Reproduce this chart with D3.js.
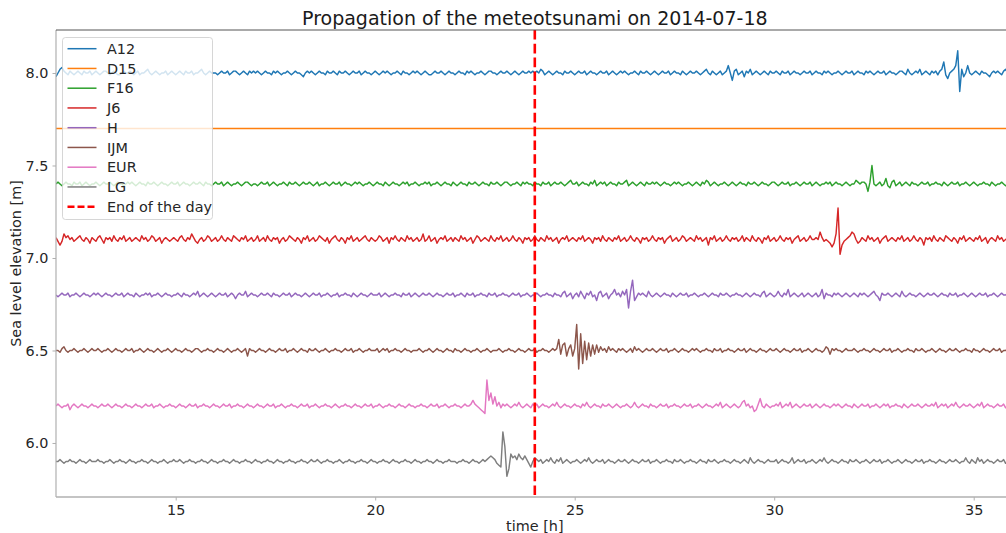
<!DOCTYPE html>
<html>
<head>
<meta charset="utf-8">
<script src="https://cdn.jsdelivr.net/npm/d3@7"></script>
<style>
  body { margin: 0; background: #fff; }
  svg { display: block; font-family: "DejaVu Sans", sans-serif; }
</style>
</head>
<body>
<svg id="chart" width="1006" height="533"></svg>
<script>
// stations, their vertical offset (m) and the hour range of the records
const stations = ['A12', 'D15', 'F16', 'J6', 'H', 'IJM', 'EUR', 'LG']
const offsets = [8.0, 7.7, 7.4, 7.1, 6.8, 6.5, 6.2, 5.9]
const timeRange = [12, 36]
const endOfDay = 24
const xTicks = [15, 20, 25, 30, 35]
const yTicks = [6.0, 6.5, 7.0, 7.5, 8.0]

// de-meaned sea level in cm, one value every 3 minutes (20 per hour)
const A12 = [
  -2,0,2,3,1,0,-1,1,0,-1,0,1,0,-1,1,0,0,1,-1,0,
  1,0,-1,0,1,1,0,-1,0,1,0,-1,-1,0,1,0,0,1,0,-1,
  0,1,-1,0,0,1,2,0,-1,0,1,0,-1,0,0,1,-1,0,1,0,
  -1,0,1,0,-1,1,0,0,1,-1,0,0,1,2,0,-1,0,1,0,0,
  0,-1,0,1,0,0,1,-1,0,1,1,0,-1,0,1,0,-1,1,0,1,
  0,1,0,-1,0,1,0,0,-1,1,0,1,0,-1,0,0,1,0,-1,0,
  1,0,0,-1,-2,0,1,0,1,0,-1,0,1,0,0,-1,1,0,0,1,
  0,-1,1,0,0,1,0,-1,0,1,0,0,1,-1,0,1,0,0,-1,0,
  1,0,-1,0,1,0,1,0,-1,0,0,1,0,-1,1,0,0,-1,0,1,
  0,1,0,-1,0,1,0,-1,-1,0,1,0,0,1,0,-1,0,1,0,0,
  -1,0,1,0,0,-1,1,0,1,0,-1,0,0,1,0,-1,0,1,1,0,
  0,-1,0,1,0,0,1,0,-1,0,1,0,-1,0,1,0,0,1,0,1,
  0,1,0,2,1,-1,0,1,0,-1,0,1,0,0,-1,1,0,0,1,0,
  -1,0,1,0,0,1,-1,0,1,0,0,-1,0,1,0,0,1,-1,0,1,
  0,-1,0,1,0,1,0,-1,0,0,1,0,-1,1,0,0,1,0,-1,0,
  1,0,-1,0,1,0,0,1,-1,0,1,0,0,-1,1,0,-1,0,1,0,
  0,1,0,-1,0,1,2,0,-1,1,0,-1,0,1,-1,0,1,4,0,-4,
  1,2,-1,0,1,-2,1,0,2,-1,0,1,0,-1,0,1,0,-1,1,0,
  0,1,0,-1,1,0,0,1,-1,0,1,0,0,-1,0,1,0,0,1,-1,
  0,1,0,0,-1,1,0,1,0,-1,0,0,1,0,-1,0,1,0,0,1,
  -1,0,1,0,0,-1,1,0,1,0,-1,0,1,0,0,1,-1,0,1,0,
  0,-1,0,1,1,0,-1,2,0,-1,0,1,0,2,-1,0,1,0,-1,1,
  0,1,-1,1,2,6,-1,-3,0,1,2,4,12,-10,2,-2,0,4,0,-1,
  0,1,0,-1,1,0,0,-1,-2,0,1,0,1,0,-1,1,2,0,1,0,
  0
]
const D15 = [0, 0]
const F16 = [
  0,1,0,-1,0,1,0,0,-1,1,0,0,1,-1,0,1,0,-1,0,0,
  1,0,-1,0,1,0,0,1,0,-1,0,1,0,0,-1,0,1,0,1,0,
  -1,0,1,0,0,-1,1,0,0,1,0,-1,0,1,0,0,-1,0,1,0,
  0,1,-1,0,1,0,0,-1,0,1,0,0,1,0,-1,1,0,0,-1,0,
  1,0,0,1,-1,0,1,0,-1,0,0,1,0,-1,0,1,1,0,-1,0,
  0,-1,0,1,0,0,1,-1,0,1,0,-1,0,0,1,0,-1,1,0,0,
  1,0,-1,0,1,0,0,1,0,-1,0,1,-1,0,0,1,0,-1,0,1,
  0,0,1,-1,0,1,0,0,-1,0,1,0,1,0,-1,0,0,1,0,-1,
  0,1,0,0,-1,1,0,-1,0,1,0,0,-1,0,1,0,1,-1,0,0,
  1,0,-1,0,0,1,0,1,-1,0,0,1,0,-1,0,1,0,0,-1,1,
  0,-1,0,1,0,0,-1,1,0,0,1,0,-1,0,1,0,0,-1,1,0,
  0,1,0,-1,0,1,1,0,-1,0,0,1,0,-1,1,0,1,0,0,-1,
  1,0,0,-1,1,0,0,1,-1,0,1,0,0,1,0,-1,0,1,2,0,
  0,1,-1,0,1,0,0,-1,1,0,2,-1,0,1,0,1,-1,0,1,0,
  0,-1,1,0,0,1,2,-1,0,1,0,-1,0,1,0,-1,1,0,0,1,
  0,1,0,-1,0,1,0,0,-1,0,1,0,1,0,-1,0,0,1,0,-1,
  0,1,0,-1,1,0,2,1,-1,0,1,0,-1,0,0,1,0,-1,0,1,
  0,-1,0,1,0,0,-1,1,0,0,1,0,-1,0,1,0,0,-1,0,1,
  1,0,-1,0,1,0,0,1,-1,0,0,1,0,-1,0,1,0,0,1,-1,
  0,1,0,-1,0,0,1,0,1,-1,0,1,0,0,-1,0,1,0,-1,0,
  0,2,1,0,1,1,0,-4,1,10,0,-1,0,1,-1,0,3,-1,-2,1,
  2,-1,0,1,-1,0,1,0,-1,1,0,0,-1,0,1,0,0,1,-1,0,
  0,1,0,0,-1,1,0,-1,0,1,0,0,1,-1,0,0,1,0,-1,0,
  1,0,-1,0,0,1,0,0,-1,1,0,-1,0,0,1,0,-1,0,1,0,
  0
]
const J6 = [
  1,-1,-3,-1,3,1,2,0,1,-1,0,1,2,0,-1,1,0,-2,1,0,
  -1,1,2,0,-2,1,0,1,-1,2,0,-1,1,0,2,-1,0,1,-1,0,
  1,0,-1,2,0,1,-1,0,2,1,-1,0,1,-2,0,1,0,-1,0,1,
  0,-1,1,2,0,-1,1,0,3,1,-1,-2,0,1,-1,0,2,1,-1,0,
  1,-1,0,2,0,-1,1,0,-1,2,1,0,-1,1,0,2,-1,0,1,-1,
  0,2,-1,0,1,-1,2,0,-1,1,0,1,-2,0,1,-1,0,2,1,0,
  -1,1,0,-2,1,0,2,-1,0,1,-1,0,2,1,0,-1,1,-2,0,1,
  2,0,-1,1,0,-2,1,0,2,-1,0,1,-1,0,1,2,0,-1,1,0,
  -1,0,2,1,-1,0,1,-2,1,0,2,0,-1,1,0,-1,2,0,1,-1,
  0,1,-1,0,3,-1,0,2,-1,0,1,-2,0,1,0,2,-1,0,1,-1,
  1,0,-1,2,0,1,-1,0,1,-2,0,2,1,-1,0,1,0,-1,2,0,
  -1,1,0,2,-1,0,1,-1,0,2,0,-1,1,0,-2,1,0,1,-1,0,
  2,0,-1,1,0,-1,2,0,1,-1,0,1,-2,0,1,0,2,-1,0,1,
  0,-1,1,0,2,-1,0,1,0,-2,1,0,1,-1,2,0,-1,1,0,-1,
  1,0,2,-1,0,1,-1,0,2,0,-1,1,0,-2,1,0,1,-1,0,2,
  0,-1,1,0,1,-2,0,1,2,-1,0,1,-1,0,2,1,-1,0,1,0,
  -1,2,0,1,-1,0,1,-3,1,0,2,-1,0,1,-1,0,2,0,-1,1,
  0,1,-1,0,2,-1,1,0,-1,2,0,-1,1,0,-2,1,0,2,-1,0,
  1,-1,0,2,0,-1,1,0,1,-2,0,1,2,-1,0,1,-1,0,2,0,
  0,1,0,4,1,-1,0,-1,-2,-4,-2,3,17,-8,-3,-1,0,1,2,4,
  3,0,-2,-1,1,0,-1,2,0,1,-1,0,1,-2,0,1,2,-1,0,1,
  0,-1,1,0,2,-1,0,1,-1,0,2,0,-1,1,0,-3,1,0,1,-1,
  2,0,-1,1,0,-1,2,1,0,-1,1,0,-2,1,0,2,-1,0,1,0,
  -1,1,0,2,-1,0,1,-2,0,1,0,-1,2,0,1,-1,0,1,0,-1,
  0
]
const H = [
  0,-1,0,1,0,0,1,-1,0,0,1,0,-1,0,1,0,0,-1,0,1,
  0,1,0,-1,0,1,0,0,-1,0,1,0,0,1,-1,0,1,0,0,-1,
  1,0,-1,0,0,1,0,1,-1,0,0,1,0,-1,0,1,0,0,-1,0,
  0,1,0,-1,1,0,0,-1,0,1,0,2,-1,0,1,0,-1,0,1,0,
  -1,0,1,0,0,1,-1,0,1,0,-2,0,1,0,0,2,-1,0,1,0,
  0,-1,0,1,0,0,1,0,-1,1,0,0,-1,0,1,0,0,1,-1,0,
  1,0,0,-1,0,1,0,-1,0,1,0,0,1,-1,0,0,1,0,-1,0,
  0,1,-1,0,0,1,0,0,-1,1,0,-1,0,1,0,0,-1,0,1,0,
  0,0,1,-1,0,1,0,-1,0,0,1,0,0,-1,1,0,0,1,-1,0,
  1,0,-1,0,1,0,0,1,0,-1,0,1,0,0,-1,0,1,0,0,1,
  -1,0,0,1,0,-1,1,0,0,1,-1,0,0,1,0,0,-1,1,0,0,
  1,-1,0,0,1,0,0,-1,0,1,0,0,1,-1,0,0,1,0,-1,0,
  0,1,0,-1,0,0,1,0,0,-1,1,0,0,-1,1,2,-1,0,1,-2,
  0,1,-1,2,0,-2,1,0,2,-1,0,-3,1,2,-1,0,1,-2,0,1,
  3,0,1,-1,2,0,3,-7,2,8,-3,-1,1,0,1,0,-1,2,0,-1,
  0,1,0,-1,0,1,0,0,-1,1,0,-1,0,1,0,0,1,-1,0,0,
  1,0,-1,0,0,1,0,-1,0,1,0,0,-1,1,0,0,1,0,-1,0,
  0,1,0,0,-1,0,1,0,-1,0,1,0,0,-1,1,2,-1,0,1,0,
  -1,0,2,0,-1,1,0,3,-1,0,1,0,-1,0,1,-1,0,1,0,-1,
  0,1,-1,0,3,-2,1,0,0,-1,1,0,1,0,-1,0,1,0,-1,0,
  1,0,-1,1,0,1,0,-1,0,1,2,0,-1,-3,1,0,0,1,0,-1,
  0,1,0,-1,2,0,-1,0,1,0,0,-1,0,1,0,-1,0,1,0,0,
  1,0,-1,0,1,0,0,-1,1,0,0,1,-1,0,0,1,0,-1,0,1,
  0,-1,0,1,0,0,1,-1,0,0,1,0,-1,0,1,0,0,1,0,0,
  0
]
const IJM = [
  0,0,-1,1,2,0,-1,0,0,1,0,-1,0,0,1,0,-1,0,1,0,
  0,1,0,-1,0,0,1,0,-1,0,1,0,0,-1,0,1,0,0,1,-1,
  0,0,1,0,-1,0,1,0,0,-1,0,1,0,-1,0,0,1,0,-1,0,
  1,0,0,-1,0,1,0,0,-1,0,1,1,0,-1,0,0,1,0,0,-1,
  0,1,0,0,-1,0,1,0,-1,0,0,1,0,-1,0,1,-3,1,0,0,
  -1,0,1,0,0,-1,0,1,0,0,-1,0,1,0,0,1,-1,0,0,1,
  0,-1,0,1,0,0,-1,1,0,0,1,0,-1,0,0,1,0,-1,0,0,
  1,0,0,-1,0,1,0,0,1,-1,0,0,1,0,-1,0,0,1,0,0,
  0,1,-1,0,1,0,1,-1,0,0,1,0,0,-1,0,1,0,0,-1,0,
  0,0,1,0,-1,0,0,1,0,-1,0,1,0,0,-1,0,1,0,0,-1,
  1,0,0,-1,0,1,0,0,-1,0,0,1,0,-1,0,0,1,0,-1,0,
  0,0,1,0,-1,0,0,1,0,0,-1,0,1,0,0,-1,0,1,0,0,
  1,-1,0,0,1,0,0,-1,0,1,0,1,6,-2,3,4,-3,1,3,-3,
  1,14,-10,9,-7,5,-5,4,-3,3,-2,3,-1,2,0,1,-1,2,0,1,
  0,-1,1,0,1,0,-1,0,1,-1,2,0,1,0,-1,0,1,0,0,1,
  0,-1,0,1,0,0,1,-1,0,0,1,0,-1,0,1,0,0,-1,0,1,
  0,1,0,-1,0,0,1,0,0,-1,1,0,0,1,-1,0,0,1,0,0,
  -1,0,1,0,0,1,-1,0,1,0,0,-1,0,1,0,0,-1,0,1,0,
  0,1,0,-1,0,1,0,0,-1,0,1,0,0,1,-1,0,0,1,0,-1,
  0,1,0,0,-1,0,2,1,-2,1,0,1,0,0,-1,0,1,0,0,0,
  1,0,-1,0,0,1,0,0,-1,0,1,0,0,-1,0,1,0,0,1,-1,
  0,0,1,0,-1,0,0,1,0,0,-1,1,0,0,1,0,-1,0,0,1,
  0,-1,0,1,0,0,-1,0,1,0,0,1,0,-1,0,0,1,0,0,-1,
  1,0,0,-1,0,1,0,0,-1,0,1,0,0,1,-1,0,0,1,0,0,
  0
]
const EUR = [
  0,1,0,-1,0,0,1,-2,0,1,0,-1,0,1,0,0,-1,0,1,0,
  0,-1,0,1,0,0,1,0,-1,0,1,0,0,-1,0,1,0,0,-1,0,
  1,0,0,-1,0,1,0,0,1,-1,0,0,1,0,-1,0,0,1,0,0,
  -1,0,1,0,0,-1,0,1,0,0,1,-1,0,0,1,0,0,-1,0,1,
  0,0,-1,0,1,0,0,1,-1,0,0,1,0,0,-1,0,1,0,0,-1,
  0,1,0,0,-1,0,1,0,0,1,-1,0,0,1,0,-1,0,0,1,0,
  0,-1,0,1,0,0,1,-1,0,0,1,0,-1,0,0,1,0,0,-1,0,
  1,0,-1,0,0,1,0,0,-1,0,1,0,0,-1,0,1,0,0,1,-1,
  0,0,1,0,-1,0,0,1,0,0,-1,0,1,0,0,-1,0,1,0,0,
  -1,0,0,1,0,0,-1,0,1,0,0,1,-1,0,0,1,0,-1,0,0,
  1,0,0,-1,0,1,0,0,1,3,1,0,-1,-2,-3,-4,14,3,7,1,
  5,0,2,-1,1,0,1,0,-1,0,1,0,2,0,-1,0,1,0,-1,1,
  0,1,-1,0,1,0,0,-1,0,1,0,2,0,-1,0,1,0,0,-1,0,
  1,0,0,-1,1,0,2,0,-1,0,1,0,0,-1,1,0,0,1,0,-1,
  0,1,0,-1,0,0,1,0,-1,0,2,0,-1,0,1,0,0,-1,1,0,
  0,-1,0,1,0,0,1,-1,0,0,1,0,0,-1,0,1,0,0,1,-1,
  0,0,1,0,-1,0,1,0,0,-1,0,1,0,2,-1,0,1,0,-1,0,
  1,0,-1,0,2,3,0,1,-1,0,-3,-2,1,4,0,-1,1,0,-1,0,
  0,1,0,2,-1,0,1,0,2,-1,0,1,0,-1,0,1,0,0,1,-1,
  0,1,0,-1,0,1,0,0,-1,0,1,0,1,0,-1,0,1,0,0,-1,
  1,0,-1,0,1,0,0,1,-1,0,0,1,0,-1,0,1,0,1,-1,0,
  0,1,0,0,-1,1,0,-1,0,1,0,0,1,0,-1,0,1,0,0,1,
  0,2,-1,0,1,0,1,-1,0,1,0,2,0,-1,0,1,0,0,1,0,
  -1,0,1,0,2,-1,0,1,0,0,-1,0,1,0,0,1,-1,0,1,0,
  0
]
const LG = [
  0,0,1,0,-1,0,0,1,0,0,-1,0,1,0,0,-1,0,1,0,0,
  0,1,0,0,-1,0,0,1,0,-1,0,0,1,0,0,-1,0,1,0,0,
  -1,0,0,1,0,0,-1,0,1,0,0,-1,0,0,1,0,-1,0,0,1,
  0,0,1,0,-1,0,0,1,0,0,-1,0,0,1,0,0,-1,0,1,0,
  0,-1,0,0,1,0,0,-1,0,1,0,0,-1,0,0,1,0,0,-1,0,
  1,0,0,-1,0,0,1,0,0,-1,0,1,0,0,-1,0,0,1,0,0,
  -1,0,0,1,0,0,-1,0,1,0,0,1,0,-1,0,0,1,0,0,-1,
  0,0,1,0,-1,0,0,1,0,0,-1,0,0,1,0,0,-1,0,1,0,
  0,-1,0,0,1,0,0,-1,0,1,0,0,-1,0,0,1,0,0,-1,0,
  1,0,0,-1,0,0,1,0,0,-1,0,1,0,0,-1,0,0,1,0,0,
  0,-1,0,0,1,0,0,-1,0,1,0,0,-1,0,1,0,1,2,3,2,
  1,-1,-2,-3,16,8,-8,-4,4,2,3,1,4,2,1,3,1,-1,-3,0,
  2,1,0,1,-1,0,1,0,2,0,-1,1,0,2,-1,0,1,0,-1,0,
  0,1,0,-1,0,1,0,2,0,-1,0,1,0,0,1,-1,0,1,0,0,
  -1,0,1,0,0,1,0,-1,0,1,0,0,-1,0,1,0,0,1,-1,0,
  0,1,0,-1,0,0,1,0,0,-1,1,0,0,1,0,-1,0,0,1,0,
  0,-1,0,1,0,0,-1,1,0,0,1,0,-1,0,0,1,0,0,-1,0,
  1,0,0,-1,0,1,0,-1,2,0,-1,0,1,0,0,-1,0,1,0,0,
  0,1,-1,0,1,0,0,-1,0,2,-1,0,1,0,0,1,-1,0,0,1,
  0,-1,0,1,0,2,0,-1,0,1,0,0,-1,0,1,0,0,-1,1,0,
  0,1,0,-1,0,0,1,0,-1,0,1,0,0,1,-1,0,0,1,0,-1,
  0,0,1,0,-1,0,1,0,0,-1,0,1,0,0,1,-1,0,0,1,0,
  0,-1,0,1,0,0,-1,0,1,0,0,1,0,-1,0,0,2,0,-1,1,
  0,-1,2,0,1,-1,0,1,0,0,-1,0,1,0,0,1,-1,0,1,0,
  0
]
const records = [A12, D15, F16, J6, H, IJM, EUR, LG]
const colors = ['#1f77b4', '#ff7f0e', '#2ca02c', '#d62728', '#9467bd', '#8c564b', '#e377c2', '#7f7f7f']

const svg = d3.select('#chart')
const W = 1006
const plot = { left: 56, right: 1013.6, top: 30, bottom: 497 }

const x = d3.scaleLinear().domain(timeRange).range([plot.left, plot.right])
const y = d3.scaleLinear().domain([5.708, 8.2324]).range([plot.bottom, plot.top])

svg.append('defs').append('clipPath').attr('id', 'clip')
  .append('rect')
  .attr('x', plot.left).attr('y', plot.top)
  .attr('width', plot.right - plot.left).attr('height', plot.bottom - plot.top)

// build {t, v} points for every station
const series = stations.map((name, i) => {
  let vals = records[i]
  let step = (timeRange[1] - timeRange[0]) / (vals.length - 1)
  return {
    name: name,
    color: colors[i],
    points: vals.map((cm, k) => ({ t: timeRange[0] + k * step, v: offsets[i] + cm / 100 }))
  }
})

const line = d3.line().x(d => x(d.t)).y(d => y(d.v))

const g = svg.append('g').attr('clip-path', 'url(#clip)')
g.selectAll('path.series')
  .data(series)
  .join('path')
  .attr('class', 'series')
  .attr('fill', 'none')
  .attr('stroke', d => d.color)
  .attr('stroke-width', 1.45)
  .attr('stroke-linejoin', 'round')
  .attr('d', d => line(d.points))

// end of the day marker
g.append('line')
  .attr('x1', x(endOfDay)).attr('x2', x(endOfDay))
  .attr('y1', plot.top).attr('y2', plot.bottom)
  .attr('stroke', '#ff0000')
  .attr('stroke-width', 2.6)
  .attr('stroke-dasharray', '9.6,4.2')

// axes
const xAxis = svg.append('g')
  .attr('transform', `translate(0,${plot.bottom})`)
  .call(d3.axisBottom(x).tickValues(xTicks).tickSize(3.5).tickPadding(4).tickFormat(d3.format('d')))
const yAxis = svg.append('g')
  .attr('transform', `translate(${plot.left},0)`)
  .call(d3.axisLeft(y).tickValues(yTicks).tickSize(3.5).tickPadding(4).tickFormat(d3.format('.1f')))

;[xAxis, yAxis].forEach(a => {
  a.select('.domain').remove()
  a.selectAll('.tick line').attr('stroke', '#b0b0b0')
  a.selectAll('.tick text')
    .attr('fill', '#262626')
    .style('font-family', '"DejaVu Sans", sans-serif')
    .style('font-size', '14.4px')
})

// spines
svg.append('line')
  .attr('x1', plot.left).attr('x2', plot.left)
  .attr('y1', plot.top).attr('y2', plot.bottom)
  .attr('stroke', '#b0b0b0').attr('stroke-width', 1.2)
svg.append('line')
  .attr('x1', plot.left).attr('x2', W)
  .attr('y1', plot.bottom).attr('y2', plot.bottom)
  .attr('stroke', '#b0b0b0').attr('stroke-width', 1.5)
svg.append('line')
  .attr('x1', plot.left).attr('x2', W)
  .attr('y1', plot.top).attr('y2', plot.top)
  .attr('stroke', '#555').attr('stroke-width', 1)

// labels
svg.append('text')
  .attr('x', (plot.left + plot.right) / 2).attr('y', 25)
  .attr('text-anchor', 'middle')
  .attr('fill', '#1a1a1a')
  .style('font-size', '19px')
  .text('Propagation of the meteotsunami on 2014-07-18')
svg.append('text')
  .attr('x', (plot.left + plot.right) / 2).attr('y', 531)
  .attr('text-anchor', 'middle')
  .attr('fill', '#262626')
  .style('font-size', '14.4px')
  .text('time [h]')
svg.append('text')
  .attr('transform', `translate(21,${(plot.top + plot.bottom) / 2}) rotate(-90)`)
  .attr('text-anchor', 'middle')
  .attr('fill', '#262626')
  .style('font-size', '14.4px')
  .text('Sea level elevation [m]')

// legend
const legendItems = series.map(s => ({ label: s.name, color: s.color, dash: null }))
legendItems.push({ label: 'End of the day', color: '#ff0000', dash: '7,3' })

const lg = svg.append('g').attr('transform', 'translate(62.5,37.5)')
lg.append('rect')
  .attr('width', 150).attr('height', 182)
  .attr('rx', 3)
  .attr('fill', '#fff').attr('fill-opacity', 0.8)
  .attr('stroke', '#cccccc').attr('stroke-opacity', 0.8)

const rows = lg.selectAll('g.row')
  .data(legendItems)
  .join('g')
  .attr('class', 'row')
  .attr('transform', (d, i) => `translate(0,${11.2 + i * 19.75})`)
rows.append('line')
  .attr('x1', 5).attr('x2', 34)
  .attr('stroke', d => d.color)
  .attr('stroke-width', d => d.dash ? 2.6 : 1.5)
  .attr('stroke-dasharray', d => d.dash)
rows.append('text')
  .attr('x', 44.5).attr('y', 0)
  .attr('dy', '0.36em')
  .attr('fill', '#262626')
  .style('font-size', '14.4px')
  .text(d => d.label)
</script>
</body>
</html>
